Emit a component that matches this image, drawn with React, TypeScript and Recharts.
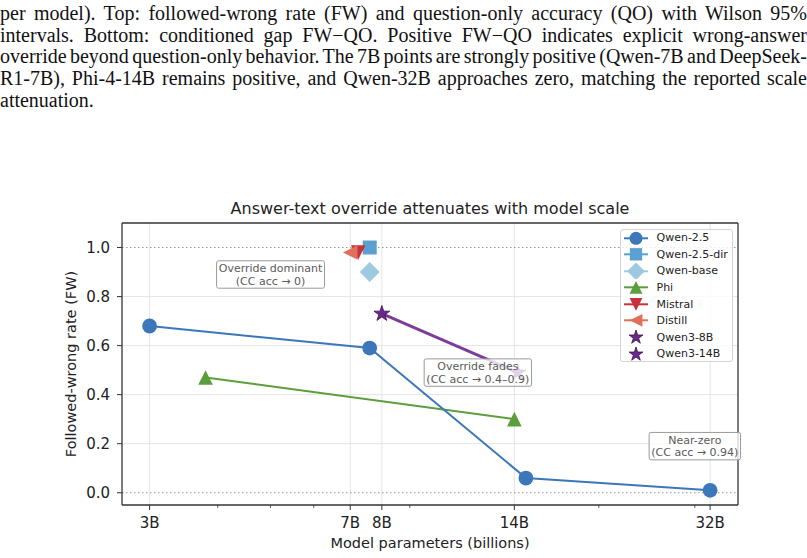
import React from "react";
import {
  CartesianGrid,
  Legend,
  ReferenceDot,
  ReferenceLine,
  Scatter,
  ScatterChart,
  XAxis,
  YAxis,
} from "recharts";

// caption text above the figure (justified paragraph)
const captionLines = [
  "per model). Top: followed-wrong rate (FW) and question-only accuracy (QO) with Wilson 95%",
  "intervals. Bottom: conditioned gap FW\u2212QO. Positive FW\u2212QO indicates explicit wrong-answer",
  "override beyond question-only behavior. The 7B points are strongly positive (Qwen-7B and DeepSeek-",
  "R1-7B), Phi-4-14B remains positive, and Qwen-32B approaches zero, matching the reported scale",
  "attenuation.",
];

const chartTitle = "Answer-text override attenuates with model scale";
const xLabel = "Model parameters (billions)";
const yLabel = "Followed-wrong rate (FW)";

// model size (billions) / followed-wrong rate
const qwen25Params = [3.0, 7.6, 14.7, 32];
const qwen25Fw = [0.68, 0.59, 0.06, 0.01];
const qwenDirParams = [7.6];
const qwenDirFw = [1.0];
const qwenBaseParams = [7.6];
const qwenBaseFw = [0.9];
const phiParams = [3.8, 14];
const phiFw = [0.47, 0.3];
const mistralParams = [7.24];
const mistralFw = [0.98];
const distillParams = [7.0];
const distillFw = [0.98];
const qwen3_8bParams = [8.0];
const qwen3_8bFw = [0.73];
const qwen3_14bParams = [14.2];
const qwen3_14bFw = [0.49];

const xTicks = [3, 7, 8, 14, 32];
const xMinorTicks = [4, 5, 6, 9, 20, 30];
const yTicks = [0, 0.2, 0.4, 0.6, 0.8, 1.0];
const xDomain = [2.67, 36.0];
const yDomain = [-0.05, 1.1];

const notes = [
  { x: 5, y: 0.89, lines: ["Override dominant", "(CC acc \u2192 0)"] },
  { x: 12, y: 0.49, lines: ["Override fades", "(CC acc \u2192 0.4\u20130.9)"] },
  { x: 30, y: 0.19, lines: ["Near-zero", "(CC acc \u2192 0.94)"] },
];

const FONT = "DejaVu Sans, sans-serif";
const purple = "#6b2a8b";

type Kind = "circle" | "square" | "diamond" | "triUp" | "triDown" | "triLeft" | "star";

const pts = (xs: number[], ys: number[]) => xs.map((x, i) => ({ x, y: ys[i] }));

const series: {
  name: string;
  color: string;
  kind: Kind;
  data: { x: number; y: number }[];
  line?: boolean;
  legendLine: boolean;
}[] = [
  { name: "Qwen-2.5", color: "#3b77b9", kind: "circle", data: pts(qwen25Params, qwen25Fw), line: true, legendLine: true },
  { name: "Qwen-2.5-dir", color: "#5aa0d0", kind: "square", data: pts(qwenDirParams, qwenDirFw), legendLine: true },
  { name: "Qwen-base", color: "#9ecae1", kind: "diamond", data: pts(qwenBaseParams, qwenBaseFw), legendLine: true },
  { name: "Phi", color: "#5c9e3b", kind: "triUp", data: pts(phiParams, phiFw), line: true, legendLine: true },
  { name: "Mistral", color: "#c8303c", kind: "triDown", data: pts(mistralParams, mistralFw), legendLine: true },
  { name: "Distill", color: "#e0705a", kind: "triLeft", data: pts(distillParams, distillFw), legendLine: true },
  { name: "Qwen3-8B", color: purple, kind: "star", data: pts(qwen3_8bParams, qwen3_8bFw), legendLine: false },
  { name: "Qwen3-14B", color: purple, kind: "star", data: pts(qwen3_14bParams, qwen3_14bFw), legendLine: false },
];

function starPoints(cx: number, cy: number, R: number) {
  const r = R * 0.382;
  const out: string[] = [];
  for (let i = 0; i < 10; i++) {
    const rad = i % 2 === 0 ? R : r;
    const a = -Math.PI / 2 + (i * Math.PI) / 5;
    out.push(`${cx + rad * Math.cos(a)},${cy + rad * Math.sin(a)}`);
  }
  return out.join(" ");
}

function Marker({ kind, cx, cy, color, k = 1 }: { kind: Kind; cx: number; cy: number; color: string; k?: number }) {
  switch (kind) {
    case "circle":
      return <circle cx={cx} cy={cy} r={7.4 * k} fill={color} />;
    case "square": {
      const s = 7 * k;
      return <rect x={cx - s} y={cy - s} width={2 * s} height={2 * s} fill={color} />;
    }
    case "diamond": {
      const s = 10 * k;
      return <polygon points={`${cx},${cy - s} ${cx + s},${cy} ${cx},${cy + s} ${cx - s},${cy}`} fill={color} />;
    }
    case "triUp": {
      const s = 7.3 * k;
      return <polygon points={`${cx},${cy - s} ${cx + s},${cy + s} ${cx - s},${cy + s}`} fill={color} />;
    }
    case "triDown": {
      const s = 7.3 * k;
      return <polygon points={`${cx},${cy + s} ${cx + s},${cy - s} ${cx - s},${cy - s}`} fill={color} />;
    }
    case "triLeft": {
      const s = 7.3 * k;
      return <polygon points={`${cx - s},${cy} ${cx + s},${cy - s} ${cx + s},${cy + s}`} fill={color} />;
    }
    case "star":
      return <polygon points={starPoints(cx, cy, 8.3 * k)} fill={color} stroke="#3a1050" strokeWidth={0.8} />;
  }
}

// text measuring for the annotation boxes
let measureCtx: CanvasRenderingContext2D | null = null;
function textWidth(s: string, font: string) {
  if (!measureCtx && typeof document !== "undefined") {
    measureCtx = document.createElement("canvas").getContext("2d");
  }
  if (!measureCtx) return s.length * 6.2;
  measureCtx.font = font;
  return measureCtx.measureText(s).width;
}

function NoteBox({ cx, cy, lines }: { cx?: number; cy?: number; lines: string[] }) {
  if (cx == null || cy == null) return <g />;
  const fs = 11;
  const lh = 12.4;
  const w = Math.max(...lines.map((l) => textWidth(l, `${fs}px DejaVu Sans`))) + 4.4;
  const h = lines.length * lh + 2.6;
  return (
    <g>
      <rect
        x={cx - w / 2}
        y={cy - h / 2}
        width={w}
        height={h}
        rx={2}
        fill="#ffffff"
        fillOpacity={0.8}
        stroke="#9a9a9a"
        strokeWidth={1}
      />
      {lines.map((l, i) => (
        <text
          key={i}
          x={cx}
          y={cy + (i - (lines.length - 1) / 2) * lh + 4}
          textAnchor="middle"
          fontSize={fs}
          fontFamily={FONT}
          fill="#5a5a5a"
        >
          {l}
        </text>
      ))}
    </g>
  );
}

function XTick(props: any) {
  const { x, y, payload } = props;
  const v = payload.value as number;
  const major = xTicks.includes(v);
  return (
    <g>
      <line x1={x} x2={x} y1={y} y2={y + (major ? 5 : 3)} stroke="#333" strokeWidth={major ? 1 : 0.8} />
      {major && (
        <text x={x} y={y + 23} textAnchor="middle" fontSize={15} fontFamily={FONT} fill="#222">
          {`${v}B`}
        </text>
      )}
    </g>
  );
}

function LegendBox() {
  return (
    <div
      style={{
        width: 113,
        height: 133,
        boxSizing: "border-box",
        border: "1px solid #d4d4d4",
        borderRadius: 3,
        background: "rgba(255,255,255,0.8)",
        fontFamily: FONT,
        fontSize: 11,
        color: "#222",
      }}
    >
      {series.map((s) => (
        <div key={s.name} style={{ height: 16.6, display: "flex", alignItems: "center" }}>
          <svg width={34} height={16.6} style={{ flex: "none" }}>
            {s.legendLine && <line x1={3} x2={27} y1={8.3} y2={8.3} stroke={s.color} strokeWidth={2} />}
            <Marker kind={s.kind} cx={15} cy={8.3} color={s.color} k={0.88} />
          </svg>
          <span style={{ marginLeft: 1.5, whiteSpace: "nowrap" }}>{s.name}</span>
        </div>
      ))}
    </div>
  );
}

const byName = (n: string) => series.find((s) => s.name === n)!;

export default function App() {
  const qwen3Line = [...byName("Qwen3-8B").data, ...byName("Qwen3-14B").data];
  const drawOrder = ["Phi", "Qwen-2.5", "Qwen-2.5-dir", "Qwen-base", "Mistral", "Distill", "Qwen3-14B", "Qwen3-8B"];
  return (
    <div style={{ position: "absolute", left: 0, top: 0, width: 807, height: 558, background: "#fff", overflow: "hidden" }}>
      <div
        style={{
          position: "absolute",
          left: 0,
          top: 2.9,
          width: 807,
          fontFamily: "Liberation Serif, Times New Roman, serif",
          fontSize: 20,
          lineHeight: "21.7px",
          color: "#111",
          wordSpacing: -2.5,
        }}
      >
        {captionLines.map((l, i) => (
          <div
            key={i}
            style={{
              textAlign: i < captionLines.length - 1 ? "justify" : "left",
              textAlignLast: i < captionLines.length - 1 ? "justify" : "left",
            }}
          >
            {l}
          </div>
        ))}
      </div>
      <div style={{ position: "absolute", left: 0, top: 0 }}>
        <ScatterChart width={807} height={558} margin={{ top: 222, right: 68, bottom: 13, left: 66 }}>
          <CartesianGrid
            stroke="#e4e4e4"
            strokeWidth={1}
            horizontalValues={[0.2, 0.4, 0.6, 0.8]}
            verticalValues={xTicks}
          />
          <XAxis
            dataKey="x"
            type="number"
            scale="log"
            domain={xDomain}
            allowDataOverflow
            ticks={[...xTicks, ...xMinorTicks].sort((a, b) => a - b)}
            interval={0}
            tick={<XTick />}
            tickLine={false}
            tickSize={0}
            tickMargin={0}
            height={40}
            axisLine={{ stroke: "#333", strokeWidth: 1.3 }}
            label={{ value: xLabel, position: "center", dy: 18, fontSize: 14.5, fill: "#222", fontFamily: FONT }}
          />
          <XAxis
            xAxisId="top"
            orientation="top"
            type="number"
            scale="log"
            domain={xDomain}
            allowDataOverflow
            ticks={xTicks}
            tick={false}
            tickLine={false}
            height={1}
            axisLine={{ stroke: "#333", strokeWidth: 1.3 }}
            label={{ value: chartTitle, position: "top", offset: 8, fontSize: 16, fill: "#222", fontFamily: FONT }}
          />
          <YAxis
            dataKey="y"
            type="number"
            domain={yDomain}
            allowDataOverflow
            ticks={yTicks}
            interval={0}
            tickFormatter={(v: number) => v.toFixed(1)}
            tick={{ fontSize: 15, fill: "#222", fontFamily: FONT }}
            tickLine={{ stroke: "#333", strokeWidth: 1 }}
            tickSize={5}
            tickMargin={7}
            width={56}
            axisLine={{ stroke: "#333", strokeWidth: 1.3 }}
            label={{ value: yLabel, angle: -90, position: "center", dx: -23, fontSize: 14.5, fill: "#222", fontFamily: FONT }}
          />
          <YAxis
            yAxisId="right"
            orientation="right"
            type="number"
            domain={yDomain}
            allowDataOverflow
            ticks={yTicks}
            tick={false}
            tickLine={false}
            width={1}
            axisLine={{ stroke: "#333", strokeWidth: 1.3 }}
          />
          <ReferenceLine y={1} stroke="#8a8a8a" strokeWidth={0.9} strokeDasharray="1.5 2.5" />
          <ReferenceLine y={0} stroke="#8a8a8a" strokeWidth={0.9} strokeDasharray="1.5 2.5" />
          <Scatter
            name="qwen3-line"
            data={qwen3Line}
            line={{ stroke: "#7b3d99", strokeWidth: 3 }}
            shape={() => <g />}
            legendType="none"
            isAnimationActive={false}
          />
          {drawOrder.map((n) => {
            const s = byName(n);
            return (
              <Scatter
                key={s.name}
                name={s.name}
                data={s.data}
                fill={s.color}
                line={s.line ? { stroke: s.color, strokeWidth: 2 } : false}
                shape={(p: any) => <Marker kind={s.kind} cx={p.cx} cy={p.cy} color={s.color} />}
                isAnimationActive={false}
              />
            );
          })}
          {notes.map((n, i) => (
            <ReferenceDot
              key={i}
              x={n.x}
              y={n.y}
              r={0}
              ifOverflow="visible"
              shape={(p: any) => <NoteBox cx={p.cx} cy={p.cy} lines={n.lines} />}
            />
          ))}
          <Legend
            layout="vertical"
            align="center"
            verticalAlign="middle"
            wrapperStyle={{ left: 620, top: 228.5, width: 113, height: 133 }}
            content={() => <LegendBox />}
          />
        </ScatterChart>
      </div>
    </div>
  );
}
